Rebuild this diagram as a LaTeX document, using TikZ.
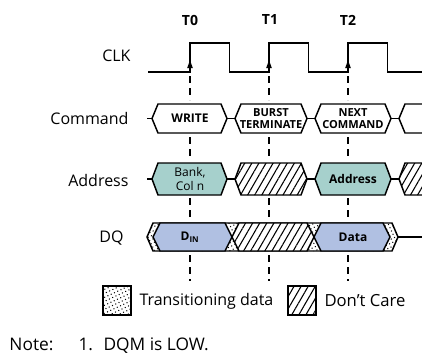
\documentclass[tikz,border=0pt]{standalone}
\usepackage{fontspec}
\setmainfont{Open Sans}
\usetikzlibrary{patterns.meta}

\definecolor{addrfill}{RGB}{166,208,204}
\definecolor{dqfill}{RGB}{176,192,226}

\tikzset{every picture/.style={line width=0.75pt}}
\tikzset{
	signal/.style={line width=1.1pt, line join=miter},
	tick/.style={line width=1.5pt, dash pattern={on 5.2pt off 3.8pt}},
	dontcare/.style={preaction={fill=white}, pattern={Lines[angle=60,distance=4.6pt,line width=0.8pt]}},
	transition/.style={preaction={fill=white}, pattern={Dots[angle=25,distance=2.7pt,radius=0.55pt]}},
	rowlabel/.style={anchor=east, inner sep=0.75pt, font=\fontsize{12}{14}\selectfont},
	tlabel/.style={inner sep=0.75pt, font=\fontsize{10.5}{12}\selectfont\bfseries},
	boxtext/.style={inner sep=0.5pt, align=center, font=\fontsize{9}{9.6}\selectfont\bfseries},
	boxtwo/.style={inner sep=0.5pt, align=center, font=\fontsize{8.3}{9.2}\selectfont\bfseries},
	boxplain/.style={inner sep=0.5pt, align=center, font=\fontsize{9}{10}\selectfont},
	legendtext/.style={anchor=west, inner sep=0.75pt, font=\fontsize{12}{14}\selectfont},
	notetext/.style={anchor=base west, inner sep=0.75pt, font=\fontsize{13}{15}\selectfont}
}

\begin{document}
\begin{tikzpicture}[x=0.75pt,y=0.75pt,yscale=-1,xscale=1]
	\useasboundingbox (0,0) rectangle (422,354);
	
	% Text Node
	\draw (190,20) node (tzero) [tlabel] {T0};
	% Text Node
	\draw (270,20) node (tone) [tlabel] {T1};
	% Text Node
	\draw (348,20) node (ttwo) [tlabel] {T2};
	
	% Text Node
	\draw (132,56) node (lblclk) [rowlabel] {CLK};
	% Text Node
	\draw (130,118) node (lblcmd) [rowlabel] {Command};
	% Text Node
	\draw (130,180) node (lbladdr) [rowlabel] {Address};
	% Text Node
	\draw (125,238) node (lbldq) [rowlabel] {DQ};
	
	%Straight Lines: clock
	\draw [signal] (148,72) -- (190,72) -- (190,43) -- (229.5,43) -- (229.5,72) -- (269,72) -- (269,43) -- (308.5,43) -- (308.5,72) -- (348,72) -- (348,43) -- (387.5,43) -- (387.5,72) -- (422,72) ;
	\foreach \ex in {190,269,348} {
		\fill (\ex-2.8,68) -- (\ex,60) -- (\ex+2.8,68) -- cycle ;
	}
	
	%Straight Lines: dashed ticks at the rising edges
	\foreach \ex in {190,269,348} {
		\foreach \ya/\yb in {76/100,137/160,198/220,255/281}
			\draw [tick] (\ex,\ya) -- (\ex,\yb) ;
	}
	
	%Shape: command bus
	\draw [signal] (147,118.5) -- (152,118.5) ;
	\draw [signal, fill=white] (152,118.5) -- (158,104) -- (221,104) -- (227,118.5) -- (221,133) -- (158,133) -- cycle ;
	\draw [signal] (227,118.5) -- (235,118.5) ;
	\draw [signal, fill=white] (235,118.5) -- (241,104) -- (301,104) -- (307,118.5) -- (301,133) -- (241,133) -- cycle ;
	\draw [signal] (307,118.5) -- (315,118.5) ;
	\draw [signal, fill=white] (315,118.5) -- (321,104) -- (385,104) -- (391,118.5) -- (385,133) -- (321,133) -- cycle ;
	\draw [signal] (391,118.5) -- (399,118.5) ;
	\draw [signal] (422,104) -- (405,104) -- (399,118.5) -- (405,133) -- (422,133) ;
	
	% Text Node
	\draw (190,118.5) node (cmdwrite) [boxtext] {WRITE};
	% Text Node
	\draw (271,118.5) node (cmdburst) [boxtwo] {BURST\\TERMINATE};
	% Text Node
	\draw (353,118.5) node (cmdnext) [boxtwo] {NEXT\\COMMAND};
	
	%Shape: address bus
	\draw [signal] (147,179) -- (152,179) ;
	\draw [signal, fill=addrfill] (152,179) -- (158,163) -- (221,163) -- (227,179) -- (221,195) -- (158,195) -- cycle ;
	\draw [signal] (227,179) -- (235,179) ;
	\draw [signal, dontcare] (235,179) -- (241,163) -- (301,163) -- (307,179) -- (301,195) -- (241,195) -- cycle ;
	\draw [signal] (307,179) -- (315,179) ;
	\draw [signal, fill=addrfill] (315,179) -- (321,163) -- (385,163) -- (391,179) -- (385,195) -- (321,195) -- cycle ;
	\draw [signal] (391,179) -- (399,179) ;
	\fill [dontcare] (422,163) -- (405,163) -- (399,179) -- (405,195) -- (422,195) -- cycle ;
	\draw [signal] (422,163) -- (405,163) -- (399,179) -- (405,195) -- (422,195) ;
	
	% Text Node
	\draw (190,179) node (addrbank) [boxplain] {Bank,\\Col n};
	% Text Node
	\draw (353,179) node (addraddr) [boxtext] {Address};
	
	%Shape: data bus
	\draw [signal, transition] (147,237) -- (153,223) -- (392,223) -- (398,237) -- (392,251) -- (153,251) -- cycle ;
	\draw [signal, fill=dqfill] (153,237) -- (160,223) -- (225,223) -- (232,237) -- (225,251) -- (160,251) -- cycle ;
	\draw [signal, dontcare] (232,237) -- (239,223) -- (307,223) -- (314,237) -- (307,251) -- (239,251) -- cycle ;
	\draw [signal, fill=dqfill] (314,237) -- (321,223) -- (383,223) -- (390,237) -- (383,251) -- (321,251) -- cycle ;
	\draw [signal] (398,237) -- (422,237) ;
	
	% Text Node
	\draw (190,237) node (dqin) [boxtext] {D\textsubscript{IN}};
	% Text Node
	\draw (353,237) node (dqdata) [boxtext] {Data};
	
	%Shape: legend
	\draw [signal, transition] (103,286) rectangle (131,315) ;
	\draw (138,301) node (legtrans) [legendtext] {Transitioning data};
	\draw [signal, dontcare] (288,286) rectangle (316,315) ;
	\draw (323,301) node (legcare) [legendtext, font=\fontsize{12.5}{14}\selectfont] {Don't Care};
	
	% Text Node
	\draw (8,350) node (notehead) [notetext] {Note:};
	% Text Node
	\draw (77,350) node (noteone) [notetext] {1.};
	% Text Node
	\draw (102,350) node (notedqm) [notetext] {DQM is LOW.};
	
\end{tikzpicture}
\end{document}
